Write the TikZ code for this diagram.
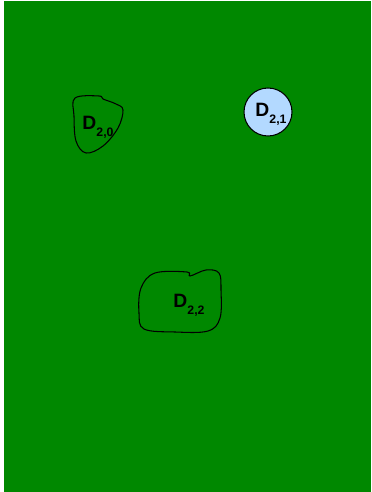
\documentclass[tikz,border=0pt]{standalone}
\usepackage{fontspec}
\setmainfont{Liberation Sans}
\usepackage{tikz}
\definecolor{fieldgreen}{RGB}{0,136,0}
\definecolor{diskblue}{RGB}{179,217,255}
\newcommand{\dname}[1]{D\raisebox{-0.7ex}{\bfseries\fontsize{7}{8}\selectfont #1}}

\begin{document}
\begin{tikzpicture}[x=0.02cm,y=-0.02cm,
      lbl/.style={font=\bfseries\fontsize{11}{12}\selectfont,inner sep=0pt},
      region/.style={draw=black,semithick,line join=round},
      disk/.style={circle,draw=black,semithick,fill=diskblue,minimum size=0.96cm,inner sep=0pt}]
    \useasboundingbox (0,0) rectangle (371,492);
    \fill[fieldgreen] (4,1) rectangle (371,492);
    % region D_{2,0}
    \draw[region] plot[smooth cycle,tension=0.6] coordinates
      {(75,98) (99,96) (103,99) (116,104) (123,110) (118,128) (103,146) (86,153) (76,141) (74,116)};
    % region D_{2,2}
    \draw[region] plot[smooth cycle,tension=0.6] coordinates
      {(155,273) (187,272) (190,276) (206,270) (219,273) (221,290) (220,318) (208,331) (175,332) (144,329) (139,313) (141,288)};
    % disk D_{2,1}
    \node[disk] (d21) at (268,112) {};
    \node[lbl] (l20) at (98,127) {\dname{2,0}};
    \node[lbl] (l21) at (271,114) {\dname{2,1}};
    \node[lbl] (l22) at (189,305) {\dname{2,2}};
  \end{tikzpicture}
\end{document}
